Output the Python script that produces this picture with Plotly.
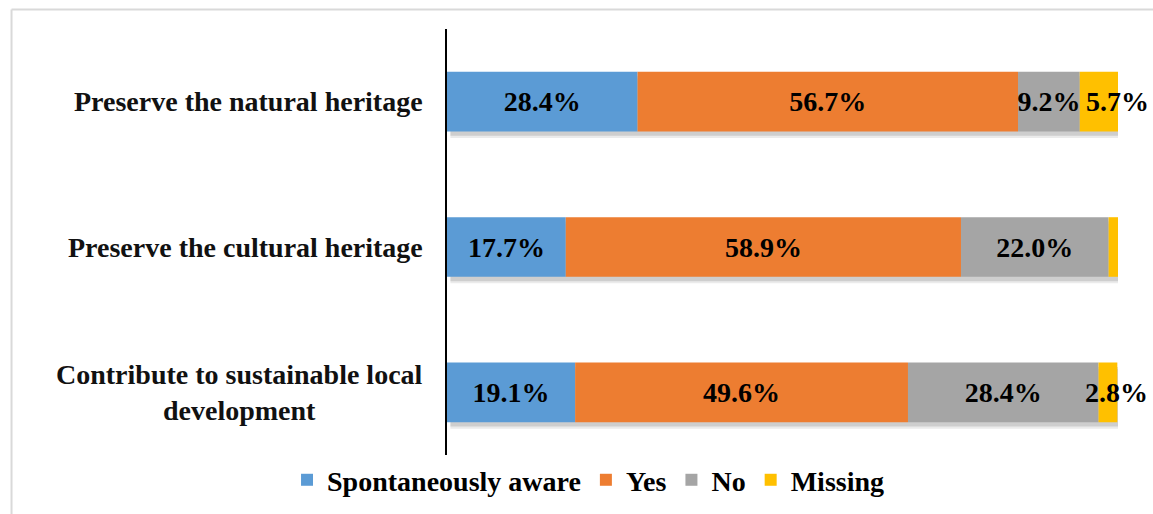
import plotly.graph_objects as go

categories = ["Preserve the natural heritage",
              "Preserve the cultural heritage",
              "Contribute to sustainable local<br>development"]
series_names = ["Spontaneously aware", "Yes", "No", "Missing"]
spontaneous = [28.4, 17.7, 19.1]
yes = [56.7, 58.9, 49.6]
no = [9.2, 22.0, 28.4]
missing = [5.7, 1.4, 2.8]
colors = ["#5B9BD5", "#ED7D31", "#A5A5A5", "#FFC000"]

FONT = "Liberation Serif"
FS = 28
series = [spontaneous, yes, no, missing]

fig = go.Figure()

# soft drop shadow behind each full bar
totals = [sum(v) for v in zip(*series)]
for k, alpha in [(0.045, 0.08), (0.03, 0.12)]:
    fig.add_trace(go.Bar(
        y=categories, x=totals, base=[0.5] * len(categories), orientation="h",
        marker=dict(color=f"rgba(0,0,0,{alpha})", line=dict(width=0)),
        offset=-0.205 - k, width=0.41, showlegend=False, hoverinfo="skip"))

cum = [0.0] * len(categories)
for name, vals, col in zip(series_names, series, colors):
    labels = [f"{v:.1f}%" for v in vals] if name != "Missing" else [""] * len(vals)
    fig.add_trace(go.Bar(
        name=name, y=categories, x=vals, base=list(cum), orientation="h",
        marker=dict(color=col, line=dict(width=0)),
        width=0.41,
        text=labels, textposition="inside", insidetextanchor="middle",
        textangle=0, constraintext="none",
        insidetextfont=dict(family=FONT, size=FS, color="black", weight="bold"),
    ))
    cum = [c + v for c, v in zip(cum, vals)]

# labels for the thin "Missing" segments (drawn past the bar end, as in the source)
for cat, v, end in zip(categories, missing, cum):
    if v >= 2:
        fig.add_annotation(x=end, y=cat, xref="x", yref="y", text=f"{v:.1f}%",
                           xanchor="right", xshift=33, showarrow=False,
                           font=dict(family=FONT, size=FS, color="black", weight="bold"))

# category labels (centered multi-line, right-anchored next to the axis)
for cat in categories:
    fig.add_annotation(x=0, y=cat, xref="paper", yref="y", text=cat,
                       xanchor="right", xshift=-22, align="center", showarrow=False,
                       font=dict(family=FONT, size=FS, color="#111111", weight="bold"))

# light frame around the picture
fig.add_shape(type="line", xref="paper", yref="paper", x0=-0.649, x1=1.2,
              y0=1.0447, y1=1.0447, line=dict(color="#D9D9D9", width=2))
fig.add_shape(type="line", xref="paper", yref="paper", x0=-0.649, x1=-0.649,
              y0=1.0447, y1=-0.2, line=dict(color="#D9D9D9", width=2))

fig.update_layout(
    width=1153, height=514,
    margin=dict(l=447, r=35, t=29, b=49, autoexpand=False),
    barmode="overlay",
    plot_bgcolor="white", paper_bgcolor="white",
    font=dict(family=FONT, size=FS, color="black"),
    xaxis=dict(range=[0, 100], visible=False, fixedrange=True),
    yaxis=dict(categoryorder="array", categoryarray=categories[::-1],
               showticklabels=False, ticks="", showgrid=False,
               showline=True, linecolor="black", linewidth=2, zeroline=False),
    legend=dict(orientation="h", xref="container", yref="container",
                x=0.51, y=0.066, xanchor="center", yanchor="middle",
                font=dict(family=FONT, size=FS, color="black", weight="bold"),
                traceorder="normal"),
    showlegend=True,
)

fig.write_html("out.html")
